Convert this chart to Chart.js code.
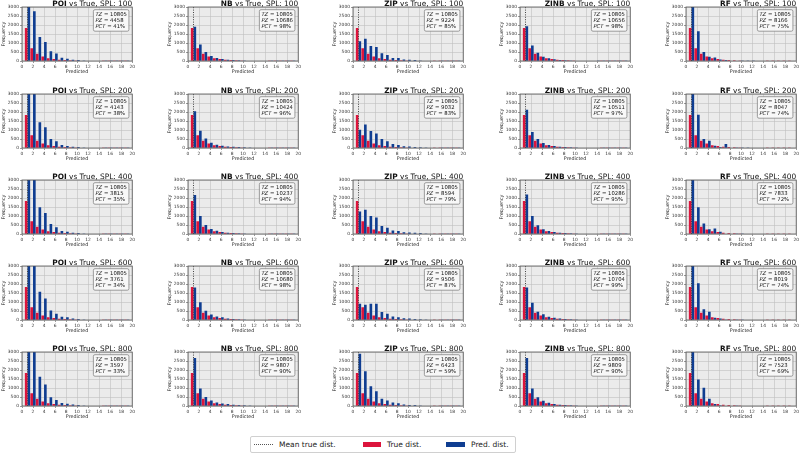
<!DOCTYPE html>
<html>
<head>
<meta charset="utf-8">
<script src="https://cdn.jsdelivr.net/npm/chart.js@4.4.1/dist/chart.umd.min.js"></script>
<style>
  body { margin: 0; background: #fff; font-family: "DejaVu Sans", sans-serif; }
  #wrap { position: relative; width: 800px; height: 454px; overflow: hidden; }
  .panel { position: absolute; }
  #legend { position: absolute; left: 250px; top: 436px; width: 264px; height: 15px;
            border: 1px solid #d0d0d0; border-radius: 2px; background: #fff;
            font-size: 7.5px; color: #222; }
  #legend span { position: absolute; top: 3px; white-space: nowrap; }
  #legend .sw { position: absolute; }
</style>
</head>
<body>
<div id="wrap">
  <div id="legend">
    <div class="sw" style="left:3px;top:7px;width:19px;border-top:1px dotted #555;"></div>
    <span style="left:28px;">Mean true dist.</span>
    <div class="sw" style="left:112px;top:5px;width:18px;height:5px;background:#dc143c;"></div>
    <span style="left:136px;">True dist.</span>
    <div class="sw" style="left:195px;top:5px;width:19px;height:5px;background:#0f3d91;"></div>
    <span style="left:220px;">Pred. dist.</span>
  </div>
</div>
<script>
// valores de los histogramas (conteo por valor predicho 1..19)
const counts = [1, 2, 3, 4, 5, 6, 7, 8, 9, 10, 11, 12, 13, 14, 15, 16, 17, 18, 19];
const models = ['POI', 'NB', 'ZIP', 'ZINB', 'RF'];
const spls = [100, 200, 400, 600, 800];
const meanTrue = 1.0;
const totalZeros = 10805;

const trueDist = [1830, 705, 405, 255, 150, 105, 70, 50, 35, 25, 18, 13, 9, 7, 5, 4, 3, 2, 2];

const predPOI = [
  [3400, 2770, 1330, 1060, 535, 420, 185, 130, 75, 55, 30, 20, 12, 8, 5, 3, 2, 1, 1],
  [3600, 3100, 1430, 1150, 500, 370, 170, 115, 75, 55, 30, 20, 12, 8, 5, 3, 2, 1, 1],
  [3700, 3200, 1480, 1170, 550, 370, 170, 130, 75, 55, 30, 20, 12, 8, 5, 3, 2, 1, 1],
  [3700, 3250, 1570, 1200, 530, 350, 185, 150, 90, 55, 30, 20, 12, 8, 5, 3, 2, 1, 1],
  [3800, 3300, 1620, 1200, 480, 330, 165, 130, 90, 55, 30, 20, 12, 8, 5, 3, 2, 1, 1]
];
const predNB = [
  [1900, 920, 500, 275, 165, 110, 75, 55, 40, 28, 20, 14, 10, 7, 5, 4, 3, 2, 1],
  [2040, 960, 530, 295, 185, 130, 90, 75, 55, 35, 25, 18, 12, 8, 6, 4, 3, 2, 1],
  [2170, 1000, 500, 280, 185, 110, 75, 55, 40, 28, 20, 14, 10, 7, 5, 4, 3, 2, 1],
  [1800, 980, 520, 300, 200, 150, 90, 60, 40, 28, 20, 14, 10, 7, 5, 4, 3, 2, 1],
  [2670, 975, 500, 310, 200, 145, 110, 75, 50, 35, 25, 18, 12, 8, 6, 4, 3, 2, 1]
];
const predZIP = [
  [1100, 1230, 830, 780, 430, 330, 170, 160, 90, 70, 50, 30, 20, 12, 8, 5, 3, 2, 1],
  [1020, 1300, 950, 800, 500, 380, 220, 170, 100, 80, 60, 40, 25, 15, 10, 6, 4, 2, 1],
  [1250, 1350, 1000, 920, 450, 350, 200, 170, 100, 80, 70, 50, 30, 18, 10, 6, 4, 2, 1],
  [900, 850, 900, 900, 450, 350, 200, 150, 100, 80, 60, 40, 25, 15, 10, 6, 4, 2, 1],
  [2900, 1930, 1100, 820, 400, 300, 200, 150, 80, 60, 50, 30, 20, 12, 8, 5, 3, 2, 1]
];
const predZINB = [
  [1930, 865, 460, 240, 150, 92, 55, 40, 30, 20, 14, 10, 7, 5, 4, 3, 2, 1, 1],
  [2130, 890, 500, 280, 167, 110, 75, 55, 40, 28, 20, 14, 10, 7, 5, 4, 3, 2, 1],
  [2200, 1000, 480, 260, 167, 110, 75, 55, 40, 28, 20, 14, 10, 7, 5, 4, 3, 2, 1],
  [1800, 960, 465, 315, 185, 130, 90, 60, 40, 28, 20, 14, 10, 7, 5, 4, 3, 2, 1],
  [2670, 975, 480, 295, 185, 110, 75, 55, 40, 28, 20, 14, 10, 7, 5, 4, 3, 2, 1]
];
const predRF = [
  [3300, 1650, 500, 240, 200, 90, 55, 20, 10, 5, 2, 1, 0, 0, 0, 0, 0, 0, 0],
  [3300, 1850, 500, 400, 130, 60, 220, 10, 5, 2, 1, 0, 0, 0, 0, 0, 0, 0, 0],
  [3300, 1480, 590, 260, 310, 130, 20, 10, 5, 2, 0, 0, 0, 0, 0, 0, 0, 0, 0],
  [3300, 2040, 600, 460, 130, 90, 30, 10, 5, 2, 0, 0, 0, 0, 0, 0, 0, 0, 0],
  [3300, 1470, 1010, 405, 110, 40, 20, 10, 5, 0, 0, 0, 0, 0, 0, 0, 0, 0, 0]
];

// ceros predichos y porcentaje (cuadro de texto)
const pzPOI = [4458, 4143, 3815, 3761, 3597];
const pzNB = [10686, 10424, 10237, 10680, 9807];
const pzZIP = [9224, 9032, 8594, 9506, 6423];
const pzZINB = [10656, 10511, 10286, 10704, 9809];
const pzRF = [8166, 8047, 7833, 8019, 7523];
const pctPOI = [41, 38, 35, 34, 33];
const pctNB = [98, 96, 94, 98, 90];
const pctZIP = [85, 83, 79, 87, 59];
const pctZINB = [98, 97, 95, 99, 90];
const pctRF = [75, 74, 72, 74, 69];

const predAll = { POI: predPOI, NB: predNB, ZIP: predZIP, ZINB: predZINB, RF: predRF };
const pzAll = { POI: pzPOI, NB: pzNB, ZIP: pzZIP, ZINB: pzZINB, RF: pzRF };
const pctAll = { POI: pctPOI, NB: pctNB, ZIP: pctZIP, ZINB: pctZINB, RF: pctRF };

// posicion de cada panel
const colLeft = [22, 188, 353, 520, 686];
const rowTop = [7, 94, 180, 266, 352];
const plotW = 111, plotH = 54;
const padL = 22, padT = 8, padR = 3, padB = 14;

const RED = '#dc143c';
const BLUE = '#0f3d91';
const FONT = '"DejaVu Sans", sans-serif';

const panelPlugin = {
    id: 'panelDeco',
    beforeDraw(chart) {
        const a = chart.chartArea, ctx = chart.ctx;
        ctx.save();
        ctx.fillStyle = '#ebebeb';
        ctx.fillRect(a.left, a.top, a.right - a.left, a.bottom - a.top);
        ctx.restore();
    },
    afterDraw(chart) {
        const a = chart.chartArea, ctx = chart.ctx;
        const info = chart.options.plugins.panelDeco;
        ctx.save();
        // marco
        ctx.strokeStyle = '#555';
        ctx.lineWidth = 0.8;
        ctx.strokeRect(a.left, a.top, a.right - a.left, a.bottom - a.top);

        // titulo: modelo en negrita
        ctx.textBaseline = 'alphabetic';
        ctx.fillStyle = '#111';
        const rest = ' vs True, SPL: ' + info.spl;
        ctx.font = '7.4px ' + FONT;
        const wRest = ctx.measureText(rest).width;
        ctx.textAlign = 'right';
        ctx.fillText(rest, a.right, a.top - 1.5);
        ctx.font = 'bold 7.4px ' + FONT;
        ctx.fillText(info.model, a.right - wRest, a.top - 1.5);

        // cuadro de texto
        const lines = [['TZ', ' = ' + info.tz], ['PZ', ' = ' + info.pz], ['PCT', ' = ' + info.pct + '%']];
        const fs = 5.3;
        let maxW = 0;
        const widths = lines.map(l => {
            ctx.font = 'italic ' + fs + 'px ' + FONT;
            const w1 = ctx.measureText(l[0]).width;
            ctx.font = fs + 'px ' + FONT;
            const w2 = ctx.measureText(l[1]).width;
            maxW = Math.max(maxW, w1 + w2);
            return w1;
        });
        const bw = maxW + 4, bh = 21.5;
        const bx = a.right - 3.3 - bw, by = a.top + 2.7;
        ctx.beginPath();
        ctx.roundRect(bx, by, bw, bh, 1.6);
        ctx.fillStyle = 'rgba(248,248,248,0.92)';
        ctx.fill();
        ctx.strokeStyle = '#777';
        ctx.lineWidth = 0.7;
        ctx.stroke();
        ctx.fillStyle = '#111';
        ctx.textAlign = 'left';
        ctx.textBaseline = 'middle';
        lines.forEach((l, i) => {
            const y = by + 4.7 + i * 6;
            ctx.font = 'italic ' + fs + 'px ' + FONT;
            ctx.fillText(l[0], bx + 2, y);
            ctx.font = fs + 'px ' + FONT;
            ctx.fillText(l[1], bx + 2 + widths[i], y);
        });
        ctx.restore();
    }
};

const wrap = document.getElementById('wrap');

models.forEach((model, c) => {
    spls.forEach((spl, r) => {
        const cv = document.createElement('canvas');
        const w = padL + plotW + padR, h = padT + plotH + padB;
        cv.width = w; cv.height = h;
        cv.className = 'panel';
        cv.style.left = (colLeft[c] - padL) + 'px';
        cv.style.top = (rowTop[r] - padT) + 'px';
        cv.style.width = w + 'px';
        cv.style.height = h + 'px';
        wrap.appendChild(cv);

        const pred = predAll[model][r];
        new Chart(cv.getContext('2d'), {
            type: 'bar',
            data: {
                datasets: [
                    {
                        type: 'line',
                        label: 'Mean true dist.',
                        data: [{ x: meanTrue, y: 0 }, { x: meanTrue, y: 3000 }],
                        borderColor: '#444',
                        borderWidth: 1,
                        borderDash: [1, 1.4],
                        pointRadius: 0,
                        order: 0
                    },
                    {
                        label: 'True dist.',
                        data: counts.map((k, i) => ({ x: k, y: trueDist[i] })),
                        backgroundColor: RED,
                        borderWidth: 0,
                        order: 1
                    },
                    {
                        label: 'Pred. dist.',
                        data: counts.map((k, i) => ({ x: k, y: pred[i] })),
                        backgroundColor: BLUE,
                        borderWidth: 0,
                        order: 1
                    }
                ]
            },
            plugins: [panelPlugin],
            options: {
                responsive: false,
                animation: false,
                events: [],
                layout: { padding: { left: 0, top: padT, right: padR, bottom: 0 } },
                datasets: { bar: { categoryPercentage: 0.96, barPercentage: 1.0 } },
                plugins: {
                    legend: { display: false },
                    tooltip: { enabled: false },
                    panelDeco: { model: model, spl: spl, tz: totalZeros, pz: pzAll[model][r], pct: pctAll[model][r] }
                },
                scales: {
                    x: {
                        type: 'linear',
                        min: 0, max: 20,
                        offset: false,
                        grid: { color: '#c0c0c0', lineWidth: 0.6, tickLength: 2, offset: false, tickColor: '#555' },
                        border: { display: false },
                        ticks: { stepSize: 2, autoSkip: false, maxRotation: 0, padding: 1, color: '#333',
                                 font: { family: FONT, size: 4.4 }, callback: v => String(v) },
                        title: { display: true, text: 'Predicted', color: '#222', padding: { top: 0, bottom: 0 }, font: { family: FONT, size: 4.8 } },
                        afterFit(s) { s.height = padB; }
                    },
                    y: {
                        min: 0, max: 3000,
                        grid: { color: '#c0c0c0', lineWidth: 0.6, tickLength: 2, tickColor: '#555' },
                        border: { display: false },
                        ticks: { stepSize: 500, padding: 1, color: '#333',
                                 font: { family: FONT, size: 4.4 }, callback: v => String(v) },
                        title: { display: true, text: 'Frequency', color: '#222', padding: { top: 1, bottom: 0 }, font: { family: FONT, size: 4.8 } },
                        afterFit(s) { s.width = padL; }
                    }
                }
            }
        });
    });
});
</script>
</body>
</html>
